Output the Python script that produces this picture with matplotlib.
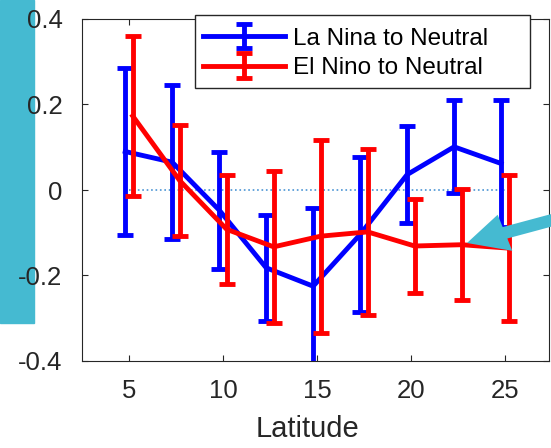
import matplotlib
matplotlib.use('Agg')
import matplotlib.pyplot as plt
import numpy as np
from matplotlib.patches import Rectangle, FancyArrow

plt.rcParams['font.family']=['Liberation Sans','DejaVu Sans']

lat=[5,7.5,10,12.5,15,17.5,20,22.5,25]
# La Nina -> Neutral
nina=[0.09,0.065,-0.047,-0.182,-0.225,-0.104,0.036,0.101,0.062]
nina_err=[0.196,0.18,0.137,0.124,0.182,0.182,0.114,0.109,0.148]
# El Nino -> Neutral
nino=[0.173,0.022,-0.092,-0.133,-0.108,-0.098,-0.131,-0.128,-0.136]
nino_err=[0.187,0.13,0.127,0.177,0.226,0.194,0.109,0.13,0.17]
yticks=[-0.4,-0.2,0,0.2,0.4]
ytick_labels=['-0.4','-0.2','0','0.2','0.4']
xticks=[5,10,15,20,25]

cyan='#45BAD1'
dark='#262626'

fig=plt.figure(figsize=(5.51,4.48),dpi=100)
ax=fig.add_axes([82/551,87/448,467/551,342/448])

x=np.array(lat)
ax.plot([lat[0],lat[-1]],[0,0],':',color='#4a94d4',lw=1.2,zorder=1)
ax.errorbar(x-0.2,nina,yerr=nina_err,color='#0000ff',lw=3.5,capsize=5.5,capthick=3.5,label='La Nina to Neutral',zorder=2)
ax.errorbar(x+0.2,nino,yerr=nino_err,color='#ff0000',lw=3.5,capsize=5.5,capthick=3.5,label='El Nino to Neutral',zorder=3)

ax.set_xlim(2.5,27.35)
ax.set_ylim(-0.4,0.4)
ax.set_xticks(xticks)
ax.set_yticks(yticks)
ax.set_yticklabels(ytick_labels)
ax.tick_params(direction='in',length=4.5,width=0.8,color=dark,labelcolor=dark,labelsize=18.5,top=True,right=True)
ax.tick_params(axis='y',pad=14)
ax.tick_params(axis='x',pad=13)
for s in ax.spines.values():
	s.set_color(dark)
	s.set_linewidth(0.8)
ax.set_xlabel('Latitude',fontsize=21,color=dark)
ax.xaxis.set_label_coords((307-82)/467,-54/342)

# matlab-style legend box is wider than its contents, so draw the frame separately
leg=ax.legend(loc='upper left',bbox_to_anchor=(193/551,1-18/448),bbox_transform=fig.transFigure,
	fontsize=17.5,frameon=False,borderaxespad=0,borderpad=0.4,
	labelspacing=0.3,handlelength=3.37,handletextpad=0.33)
for t in leg.get_texts():
	t.set_color('black')
frame=Rectangle((195/551,1-88/448),335/551,73/448,transform=fig.transFigure,
	facecolor='white',edgecolor=dark,lw=1.0,zorder=4)
ax.add_artist(frame)
frame.set_clip_on(False)
leg.set_zorder(5)

# cyan decorations
fig.patches.append(Rectangle((0,1-323/448),34/551,323/448,transform=fig.transFigure,color=cyan,zorder=-1))
fig.patches.append(FancyArrow(560/551,1-218/448,-93/551,-25/448,transform=fig.transFigure,
	width=12/448,head_width=38/448,head_length=40/551,length_includes_head=True,color=cyan,lw=0,zorder=10))

fig.savefig('out.png',dpi=100)
